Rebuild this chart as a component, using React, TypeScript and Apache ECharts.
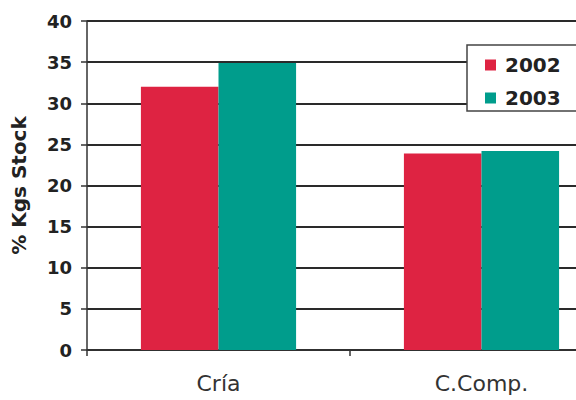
import React, { useEffect, useRef } from "react";
import * as echarts from "echarts";

const categories = ["Cría", "C.Comp."];
const seriesNames = ["2002", "2003"];
const values2002 = [32, 23.9];
const values2003 = [34.9, 24.2];
const colors = ["#de2342", "#009d8c"];

export default function App() {
  const ref = useRef<HTMLDivElement>(null);
  useEffect(() => {
    if (!ref.current) return;
    const chart = echarts.init(ref.current, null, { renderer: "svg" });
    const font = "'DejaVu Sans', Verdana, sans-serif";
    chart.setOption({
      animation: false,
      backgroundColor: "#ffffff",
      textStyle: { fontFamily: font },
      grid: { left: 87, right: 27, top: 21, bottom: 50, containLabel: false },
      graphic: [
        {
          type: "rect",
          z: 3,
          shape: { x: 467, y: 45, width: 180, height: 66 },
          style: { fill: "#ffffff", stroke: null, lineWidth: 0 },
        },
        {
          type: "polyline",
          z: 4,
          shape: { points: [[640, 45], [467, 45], [467, 111], [640, 111]] },
          style: { stroke: "#444", lineWidth: 1.5, fill: null },
        },
      ],
      legend: {
        orient: "vertical",
        left: 467,
        top: 45,
        z: 5,
        data: seriesNames,
        icon: "rect",
        itemWidth: 11,
        itemHeight: 11,
        itemGap: 13,
        padding: [10, 0, 3, 18],
        textStyle: {
          fontFamily: font,
          fontSize: 20,
          fontWeight: "bold",
          color: "#222",
          lineHeight: 20,
          padding: [0, 0, 0, 4],
        },
      },
      xAxis: {
        type: "category",
        data: categories,
        boundaryGap: true,
        axisLine: { show: true, lineStyle: { color: "#333", width: 1.5 } },
        axisTick: { show: true, length: 6, lineStyle: { color: "#333", width: 1.5 } },
        axisLabel: { fontFamily: font, fontSize: 22, color: "#333", margin: 22 },
        splitLine: { show: false },
      },
      yAxis: {
        type: "value",
        min: 0,
        max: 40,
        interval: 5,
        name: "% Kgs Stock",
        nameLocation: "middle",
        nameRotate: 90,
        nameGap: 58,
        nameTextStyle: { fontFamily: font, fontSize: 20, fontWeight: "bold", color: "#222" },
        axisLine: { show: true, lineStyle: { color: "#333", width: 1.5 } },
        axisTick: { show: true, length: 6, lineStyle: { color: "#333", width: 1.5 } },
        axisLabel: { fontFamily: font, fontSize: 18, fontWeight: "bold", color: "#222", margin: 15 },
        splitLine: { show: true, lineStyle: { color: "#2a2a2a", width: 1.8 } },
      },
      series: [
        {
          name: seriesNames[0],
          type: "bar",
          data: values2002,
          itemStyle: { color: colors[0] },
          barGap: "0%",
          barCategoryGap: "41%",
        },
        {
          name: seriesNames[1],
          type: "bar",
          data: values2003,
          itemStyle: { color: colors[1] },
          barGap: "0%",
          barCategoryGap: "41%",
        },
      ],
    });
    return () => chart.dispose();
  }, []);
  return (
    <div style={{ width: 576, height: 400, position: "absolute", left: 0, top: 0, overflow: "hidden", background: "#fff" }}>
      <div ref={ref} style={{ width: 640, height: 400 }} />
    </div>
  );
}
